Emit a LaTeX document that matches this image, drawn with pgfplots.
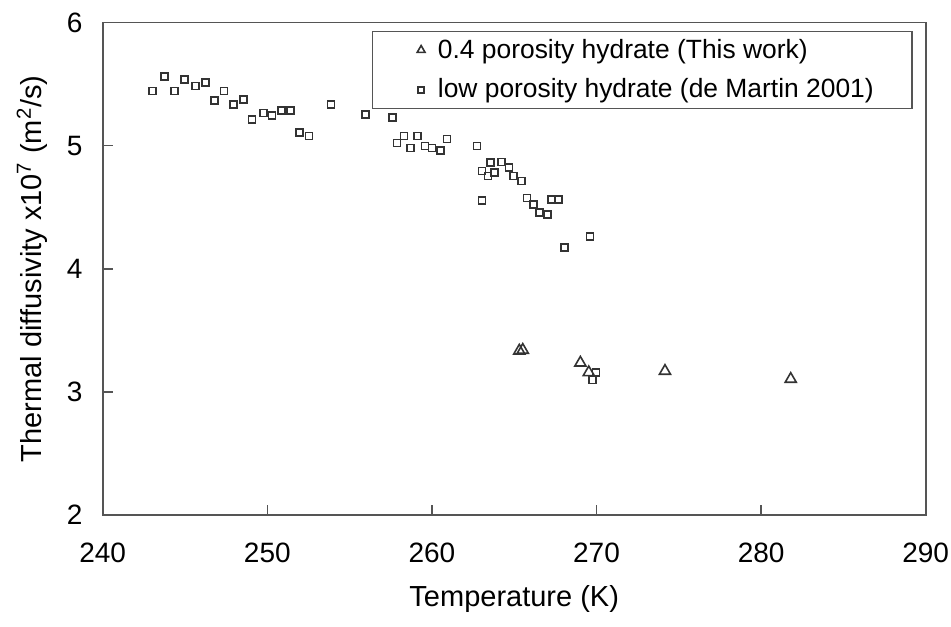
\documentclass[border=0pt]{standalone}
\usepackage{pgfplots}
\pgfplotsset{compat=1.18}
\usepackage{fontspec}
\setmainfont{Liberation Sans}
\definecolor{mk}{HTML}{333333}
\definecolor{fr}{HTML}{555555}
\pgfplotsset{
  trileg/.style={legend image code/.code={\path (-5pt,0) (8pt,0); \draw[##1, mark size=2.3pt, line width=0.6pt] plot coordinates {(0pt,0pt)};}},
  sqleg/.style={legend image code/.code={\path (-5pt,0) (8pt,0); \draw[##1, mark size=1.4pt, line width=0.6pt] plot coordinates {(0pt,0pt)};}},
}
\begin{document}
\begin{tikzpicture}
\useasboundingbox (-51.35pt,-55.5pt) rectangle (424.15pt,257.5pt);
\begin{axis}[
  at={(0,0)}, anchor=origin,
  scale only axis, width=411.5pt, height=246.25pt,
  xmin=240, xmax=290, ymin=2, ymax=6,
  xtick={240,250,...,290}, ytick={2,3,4,5,6},
  tick align=inside, tick pos=left,
  major tick length=5pt,
  axis line style={fr, line width=0.9pt},
  every tick/.style={fr, line width=0.8pt},
  /pgf/number format/assume math mode=true,
  /pgf/number format/1000 sep={},
  tick label style={font=\fontsize{14}{16}\selectfont},
  xticklabel style={anchor=center, yshift=-19pt},
  yticklabel style={anchor=center, xshift=-14pt},
  label style={font=\fontsize{14.5}{17}\selectfont},
  xlabel={Temperature (K)},
  xlabel style={at={(axis description cs:0.5,-0.17)}, anchor=center},
  ylabel={Thermal diffusivity x10\textsuperscript{7} (m\textsuperscript{2}/s)},
  ylabel style={at={(axis description cs:-0.086,0.5)}, anchor=center, rotate=0},
  legend style={at={(0.984,0.983)}, anchor=north east, draw=fr, line width=0.8pt,
    font=\fontsize{13.2}{15}\selectfont, inner xsep=19pt, inner ysep=3.7pt,
    nodes={inner sep=0pt}, row sep=8.8pt, column sep=0pt,
    cells={anchor=west}},
  legend cell align=left,
]
\addplot[only marks, mark=triangle, mark size=3.2pt, mark options={draw=mk, line width=0.8pt}, trileg] coordinates {
(265.31,3.334) (265.52,3.340) (269.02,3.236) (269.53,3.158) (274.16,3.169) (281.80,3.104)
};
\addlegendentry{0.4 porosity hydrate (This work)}
\addplot[only marks, mark=square, mark size=1.75pt, mark options={draw=mk, line width=0.85pt}, sqleg] coordinates {
(243.04,5.444) (243.77,5.561) (244.35,5.444) (244.98,5.539) (245.63,5.484)
(246.23,5.514) (246.78,5.365) (247.37,5.444) (247.96,5.336) (248.54,5.376)
(249.07,5.214) (249.76,5.265) (250.29,5.243) (250.87,5.284) (251.42,5.284)
(251.94,5.105) (252.53,5.078) (253.87,5.336) (255.98,5.254) (257.62,5.230)
(257.88,5.021) (258.31,5.078) (258.71,4.981) (259.14,5.078) (259.58,4.997)
(260.01,4.981) (260.53,4.959) (260.92,5.054) (262.74,4.997) (263.04,4.552)
(263.04,4.794) (263.41,4.753) (263.57,4.861) (263.82,4.780) (264.24,4.867)
(264.68,4.824) (264.97,4.753) (265.43,4.712) (265.78,4.574) (266.18,4.523)
(266.53,4.458) (267.01,4.442) (267.28,4.564) (267.70,4.564) (268.04,4.174)
(269.61,4.263) (269.97,3.158) (269.77,3.096)
};
\addlegendentry{low porosity hydrate (de Martin 2001)}
\end{axis}
\end{tikzpicture}
\end{document}
